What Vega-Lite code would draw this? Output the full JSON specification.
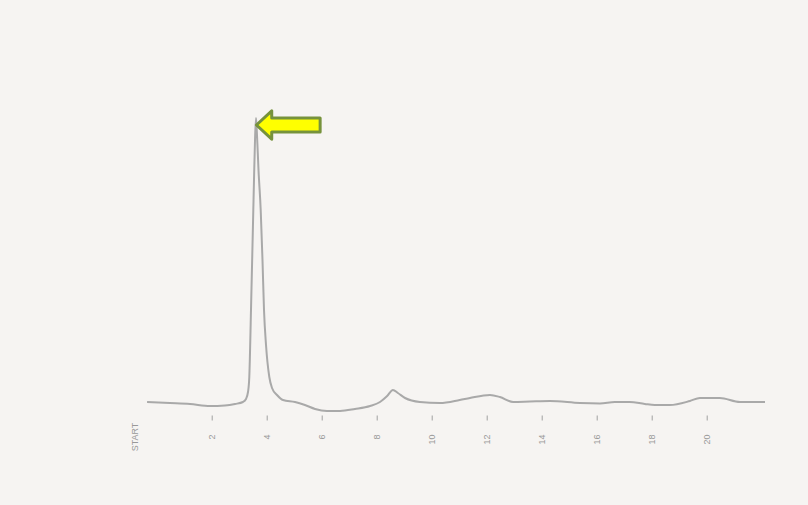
{
  "$schema": "https://vega.github.io/schema/vega-lite/v6.json",
  "autosize": {"type": "none"},
  "width": 687.5,
  "height": 300,
  "padding": {"left": 101.7, "top": 110, "right": 18.8, "bottom": 95},
  "background": "#f6f4f2",
  "config": {"view": {"stroke": null}, "font": "Liberation Sans"},
  "datasets": {
    "trace": [
      {"t": -0.35, "v": 2.67}, {"t": 0.48, "v": 2.33}, {"t": 1.21, "v": 2.0}, {"t": 1.94, "v": 1.33},
      {"t": 2.48, "v": 1.5}, {"t": 2.85, "v": 2.0}, {"t": 3.138, "v": 2.67}, {"t": 3.247, "v": 3.67},
      {"t": 3.32, "v": 6.0}, {"t": 3.367, "v": 11.0}, {"t": 3.429, "v": 33.33}, {"t": 3.513, "v": 66.67},
      {"t": 3.538, "v": 76.67}, {"t": 3.575, "v": 90.0}, {"t": 3.611, "v": 97.33}, {"t": 3.647, "v": 91.67},
      {"t": 3.702, "v": 80.0}, {"t": 3.782, "v": 66.67}, {"t": 3.847, "v": 50.0}, {"t": 3.902, "v": 33.33},
      {"t": 3.975, "v": 21.67}, {"t": 4.095, "v": 11.0}, {"t": 4.193, "v": 7.33}, {"t": 4.375, "v": 5.0},
      {"t": 4.593, "v": 3.33}, {"t": 5.03, "v": 2.67}, {"t": 5.39, "v": 1.67},
      {"t": 5.76, "v": 0.33}, {"t": 6.19, "v": -0.33}, {"t": 6.67, "v": -0.33}, {"t": 7.21, "v": 0.33},
      {"t": 7.76, "v": 1.33}, {"t": 8.12, "v": 2.67}, {"t": 8.38, "v": 4.67}, {"t": 8.59, "v": 6.67},
      {"t": 8.77, "v": 5.67}, {"t": 9.03, "v": 4.0}, {"t": 9.57, "v": 2.67}, {"t": 10.3, "v": 2.33},
      {"t": 11.02, "v": 3.33}, {"t": 11.39, "v": 4.0}, {"t": 12.12, "v": 5.0}, {"t": 12.48, "v": 4.33},
      {"t": 12.96, "v": 2.67}, {"t": 13.57, "v": 2.83}, {"t": 14.3, "v": 3.0}, {"t": 15.39, "v": 2.33},
      {"t": 16.12, "v": 2.17}, {"t": 16.66, "v": 2.67}, {"t": 17.2, "v": 2.67}, {"t": 17.75, "v": 2.0},
      {"t": 18.11, "v": 1.67}, {"t": 18.66, "v": 1.67}, {"t": 19.39, "v": 3.0}, {"t": 19.75, "v": 4.0},
      {"t": 20.48, "v": 4.0}, {"t": 21.21, "v": 2.67}, {"t": 22.12, "v": 2.67}
    ],
    "marker": [{"t": 4.785, "v": 95}],
    "start": [{"t": -0.79, "v": -9, "label": "START"}]
  },
  "layer": [
    {
      "data": {"name": "trace"},
      "mark": {"type": "line", "color": "#a9a9a9", "strokeWidth": 2, "interpolate": "monotone", "clip": false},
      "encoding": {
        "x": {
          "field": "t", "type": "quantitative",
          "scale": {"domain": [-2, 23], "nice": false, "zero": false},
          "axis": {
            "values": [2, 4, 6, 8, 10, 12, 14, 16, 18, 20],
            "title": null, "grid": false, "domain": false,
            "ticks": true, "tickSize": 5, "tickColor": "#a0a0a0", "tickWidth": 1,
            "offset": 5, "labelAngle": 270, "labelPadding": 14,
            "labelFontSize": 9, "labelColor": "#999999", "labelFont": "Liberation Sans"
          }
        },
        "y": {
          "field": "v", "type": "quantitative",
          "scale": {"domain": [0, 100], "nice": false, "zero": false},
          "axis": null
        }
      }
    },
    {
      "data": {"name": "start"},
      "mark": {"type": "text", "angle": 270, "align": "center", "baseline": "middle", "fontSize": 9, "color": "#999999", "font": "Liberation Sans"},
      "encoding": {
        "x": {"field": "t", "type": "quantitative"},
        "y": {"field": "v", "type": "quantitative"},
        "text": {"field": "label"}
      }
    },
    {
      "data": {"name": "marker"},
      "mark": {
        "type": "point", "filled": true, "fill": "#ffff00", "fillOpacity": 1,
        "stroke": "#76923c", "strokeWidth": 3, "strokeJoin": "round", "opacity": 1,
        "size": 4058,
        "shape": "M -1 0 L -0.52 -0.446 L -0.52 -0.22 L 1 -0.22 L 1 0.22 L -0.52 0.22 L -0.52 0.446 Z"
      },
      "encoding": {
        "x": {"field": "t", "type": "quantitative"},
        "y": {"field": "v", "type": "quantitative"}
      }
    }
  ]
}
